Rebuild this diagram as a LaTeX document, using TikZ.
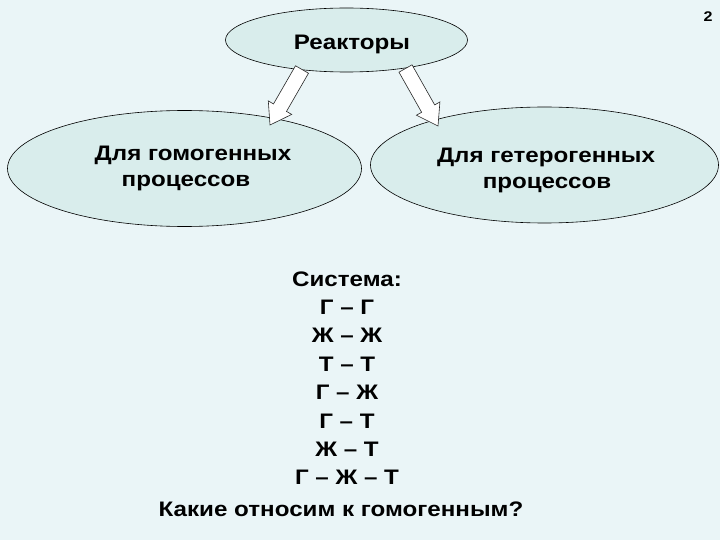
\documentclass[tikz,border=0pt]{standalone}
\usepackage{fontspec}
\setmainfont[FakeStretch=1.15]{Liberation Sans}
\usetikzlibrary{calc,shapes.geometric}
\definecolor{bg}{HTML}{EAF5F7}
\definecolor{ellfill}{HTML}{D9EDEC}
\begin{document}
\begin{tikzpicture}[x=1pt,y=1pt,
  oval/.style={ellipse, draw=black, line width=0.6pt, fill=ellfill, inner sep=0pt},
  lbl/.style={anchor=base, inner sep=0pt, font=\bfseries\fontsize{21}{24}\selectfont},
  blockarrow/.style={draw=black!85, fill=white, line width=0.6pt, line join=miter,
    to path={
      ($(\tikztotarget)!20pt!(\tikztostart)$) coordinate (ah)
      ($(\tikztostart)!7.5pt!90:(\tikztotarget)$) -- ($(ah)!7.5pt!90:(\tikztotarget)$)
      -- ($(ah)!13.5pt!90:(\tikztotarget)$) -- (\tikztotarget)
      -- ($(ah)!13.5pt!-90:(\tikztotarget)$) -- ($(ah)!7.5pt!-90:(\tikztotarget)$)
      -- ($(\tikztostart)!7.5pt!-90:(\tikztotarget)$) -- cycle}}
]
\fill[bg] (0,0) rectangle (720,-540);
\useasboundingbox (0,0) rectangle (720,-540);

\node[anchor=base, inner sep=0pt, font=\bfseries\fontsize{14}{16}\selectfont] (pg) at (708,-22) {2};

\node[oval, minimum width=242pt, minimum height=64pt] (top) at (346.5,-40) {};
\node[oval, minimum width=354pt, minimum height=116pt] (left) at (184.5,-168.5) {};
\node[oval, minimum width=348pt, minimum height=116pt] (right) at (544.5,-165) {};

\node[lbl] (ttop) at (352,-50) {Реакторы};
\node[lbl] (l1) at (193,-161) {Для гомогенных};
\node[lbl] (l2) at (186,-187) {процессов};
\node[lbl] (r1) at (546,-163) {Для гетерогенных};
\node[lbl] (r2) at (547,-189) {процессов};

\node[lbl] (s0) at (347,-286) {Система:};
\node[lbl] (s1) at (347,-314.4) {Г – Г};
\node[lbl] (s2) at (347,-342.8) {Ж – Ж};
\node[lbl] (s3) at (347,-371.2) {Т – Т};
\node[lbl] (s4) at (347,-399.6) {Г – Ж};
\node[lbl] (s5) at (347,-428) {Г – Т};
\node[lbl] (s6) at (347,-456.4) {Ж – Т};
\node[lbl] (s7) at (347,-484.8) {Г – Ж – Т};
\node[lbl] (s8) at (341,-516) {Какие относим к гомогенным?};

\coordinate (a1s) at (302,-69.5);
\coordinate (a1e) at (270,-125);
\coordinate (a2s) at (405.5,-68.5);
\coordinate (a2e) at (438,-126);
\draw[blockarrow] (a1s) to (a1e);
\draw[blockarrow] (a2s) to (a2e);
\end{tikzpicture}
\end{document}
